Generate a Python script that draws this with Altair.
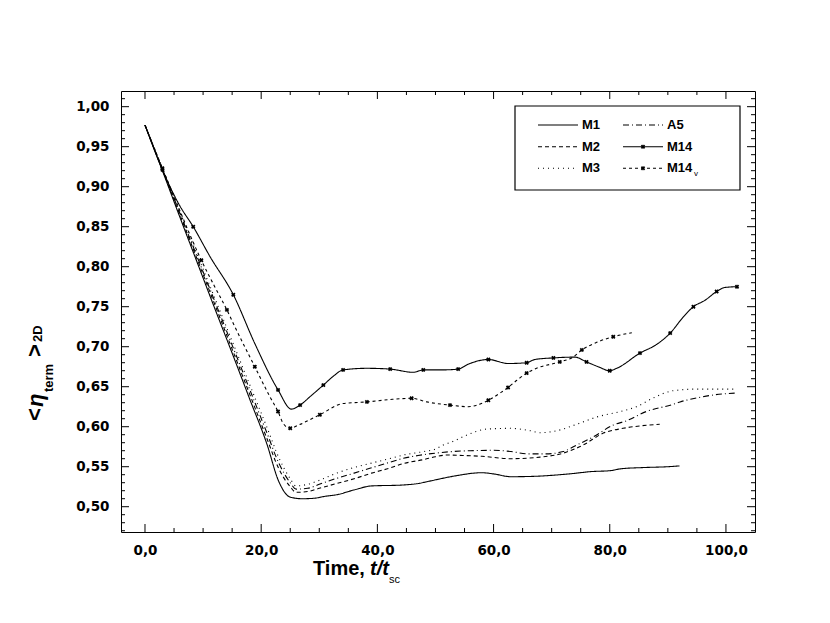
import altair as alt
import pandas as pd

# ---------------- data ----------------
M1_t = [0, 3, 6, 9, 12, 15, 18, 21, 23, 25, 27, 29, 31, 33, 36, 39, 44, 47, 49, 53, 58, 60, 63, 67, 73, 77, 80, 82, 86, 90, 92]
M1_v = [0.977, 0.920, 0.862, 0.805, 0.748, 0.692, 0.635, 0.578, 0.532, 0.512, 0.510, 0.5105, 0.513, 0.515, 0.521, 0.526,
        0.527, 0.529, 0.532, 0.538, 0.5425, 0.541, 0.5375, 0.538, 0.541, 0.544, 0.545, 0.5475, 0.549, 0.550, 0.551]

M2_t = [0, 3, 6, 9, 12, 15, 18, 21, 23, 25, 26, 28, 30, 33, 36, 39, 42, 44.5, 48, 50, 52, 55, 58, 63, 68, 72, 75.4, 78.9, 82.3, 85.2, 88.6]
M2_v = [0.977, 0.921, 0.865, 0.809, 0.753, 0.697, 0.641, 0.585, 0.548, 0.525, 0.518, 0.519, 0.523, 0.529, 0.535, 0.542,
        0.548, 0.554, 0.559, 0.5625, 0.5646, 0.564, 0.563, 0.560, 0.562, 0.567, 0.577, 0.592, 0.598, 0.601, 0.603]

M3_t = [0, 3, 6, 9, 12, 15, 18, 21, 23, 25, 26, 28, 30, 33, 36, 38.7, 41.5, 44.5, 48, 50, 51.3, 52.8, 55.4, 58.8, 62.8,
        66.3, 68, 70.9, 74.3, 77.7, 81.8, 84.6, 87.5, 90.9, 95, 98.4, 101.3]
M3_v = [0.977, 0.923, 0.869, 0.815, 0.761, 0.707, 0.653, 0.599, 0.562, 0.535, 0.526, 0.528, 0.533, 0.542, 0.549, 0.554,
        0.559, 0.5646, 0.569, 0.572, 0.577, 0.581, 0.5896, 0.597, 0.598, 0.595, 0.5925, 0.595, 0.603, 0.612, 0.619, 0.625,
        0.636, 0.645, 0.647, 0.647, 0.647]

A5_t = [0, 3, 6, 9, 12, 15, 18, 21, 23, 25, 26, 28, 30, 33, 36, 38.7, 41, 44.5, 47, 50, 53, 56, 60, 63, 66, 69, 72, 74,
        77.2, 80.6, 82.9, 86.3, 90.9, 92.1, 95, 97.8, 101.5]
A5_v = [0.977, 0.922, 0.867, 0.812, 0.757, 0.702, 0.647, 0.592, 0.555, 0.530, 0.522, 0.523, 0.528, 0.5355, 0.542, 0.548,
        0.553, 0.5605, 0.564, 0.567, 0.569, 0.570, 0.5705, 0.569, 0.566, 0.566, 0.569, 0.576, 0.5875, 0.602, 0.6075, 0.619,
        0.628, 0.631, 0.636, 0.6396, 0.642]

M14_t = [0, 3, 6, 8.3, 11.2, 15.2, 18.9, 22.9, 25.2, 26.7, 28.4, 30.7, 32.4, 34.1, 38.2, 42.2, 46.2, 47.9, 51.1, 53.9,
         55.6, 59.1, 62.5, 65.7, 67.1, 70.3, 74.0, 76.0, 78.0, 80.0, 81.2, 85.2, 88.1, 90.4, 92.7, 94.4, 96.4, 98.4, 99.8, 101.9]
M14_v = [0.977, 0.921, 0.876, 0.850, 0.8125, 0.765, 0.704, 0.646, 0.622, 0.627, 0.6375, 0.652, 0.663, 0.671, 0.673, 0.672,
         0.668, 0.671, 0.671, 0.672, 0.678, 0.684, 0.679, 0.680, 0.684, 0.686, 0.687, 0.681, 0.675, 0.670, 0.673, 0.692,
         0.703, 0.717, 0.7375, 0.750, 0.758, 0.769, 0.774, 0.775]

M14v_t = [0, 3, 6, 9.7, 12, 14.1, 15.2, 18.9, 21.5, 22.9, 23.8, 25.0, 26.4, 30.1, 34.1, 38.2, 42.2, 45.9, 48.5, 52.5,
          55.6, 59.1, 61.1, 62.5, 64.0, 65.7, 67.4, 71.4, 73.7, 75.2, 77.6, 80.6, 83.8]
M14v_v = [0.977, 0.923, 0.870, 0.808, 0.775, 0.746, 0.729, 0.675, 0.6375, 0.619, 0.604, 0.598, 0.602, 0.615, 0.629, 0.631,
          0.634, 0.6355, 0.631, 0.627, 0.625, 0.633, 0.642, 0.649, 0.658, 0.667, 0.673, 0.681, 0.687, 0.696, 0.705,
          0.7125, 0.7175]

SERIES = ["M1", "M2", "M3", "A5", "M14", "M14v"]
X_MAJOR = [0, 20, 40, 60, 80, 100]
X_MINOR = [5, 10, 15, 25, 30, 35, 45, 50, 55, 65, 70, 75, 85, 90, 95]
Y_MAJOR = [0.50, 0.55, 0.60, 0.65, 0.70, 0.75, 0.80, 0.85, 0.90, 0.95, 1.00]
Y_MINOR = [round(0.47 + 0.01 * i, 2) for i in range(55) if round((0.47 + 0.01 * i) * 100) % 5 != 0]

# ---------------- build tables ----------------
data = {"M1": (M1_t, M1_v), "M2": (M2_t, M2_v), "M3": (M3_t, M3_v),
        "A5": (A5_t, A5_v), "M14": (M14_t, M14_v), "M14v": (M14v_t, M14v_v)}
rows = []
for name in SERIES:
    ts, vs = data[name]
    for t, v in zip(ts, vs):
        rows.append({"series": name, "t": t, "v": v})
df = pd.DataFrame(rows)

mk_rows = []
for name in ["M14", "M14v"]:
    ts, vs = data[name]
    for i, (t, v) in enumerate(zip(ts, vs)):
        if i % 2 == 1:
            mk_rows.append({"series": name, "t": t, "v": v})
mk = pd.DataFrame(mk_rows)

DASH = {"M1": [1, 0], "M2": [4, 3], "M3": [1, 4], "A5": [6, 3, 1, 3], "M14": [1, 0], "M14v": [3, 3]}

W, H = 634, 441
FONT = "Liberation Sans"
TICK_FONT = "DejaVu Sans"

xs = alt.Scale(domain=[-4.13, 105.0], nice=False, zero=False)
ys = alt.Scale(domain=[0.4684, 1.0196], nice=False, zero=False)

x_axis = alt.Axis(values=X_MAJOR, labelExpr="replace(format(datum.value,'.1f'),'.',',')", ticks=False,
                  domain=False, grid=False, labelFont=TICK_FONT, labelFontSize=13.5, labelFontWeight="bold",
                  labelColor="black", labelPadding=11, title="")
y_axis = alt.Axis(values=Y_MAJOR, labelExpr="replace(format(datum.value,'.2f'),'.',',')", ticks=False,
                  domain=False, grid=False, labelFont=TICK_FONT, labelFontSize=13.5, labelFontWeight="bold",
                  labelColor="black", labelPadding=12, title="")


def X(field):
    return alt.X(field, scale=xs, axis=x_axis)


def Y(field):
    return alt.Y(field, scale=ys, axis=y_axis)


lines = alt.Chart(df).mark_line(color="black", strokeWidth=1.1, interpolate="monotone").encode(
    x=X("t:Q"),
    y=Y("v:Q"),
    strokeDash=alt.StrokeDash("series:N", scale=alt.Scale(domain=SERIES, range=[DASH[k] for k in SERIES]),
                              legend=None),
)

markers = alt.Chart(mk).mark_point(shape="cross", angle=45, filled=True, color="black", size=20, opacity=1).encode(
    x=X("t:Q"),
    y=Y("v:Q"),
)

layers = [lines, markers]


def xticks(vals, length):
    d = pd.DataFrame({"t": vals})
    b = alt.Chart(d).mark_rule(color="black", strokeWidth=1).encode(
        x=X("t:Q"), y=alt.value(H), y2=alt.value(H - length))
    t = alt.Chart(d).mark_rule(color="black", strokeWidth=1).encode(
        x=X("t:Q"), y=alt.value(0), y2=alt.value(length))
    return [b, t]


def yticks(vals, length):
    d = pd.DataFrame({"v": vals})
    l = alt.Chart(d).mark_rule(color="black", strokeWidth=1).encode(
        y=Y("v:Q"), x=alt.value(0), x2=alt.value(length))
    r = alt.Chart(d).mark_rule(color="black", strokeWidth=1).encode(
        y=Y("v:Q"), x=alt.value(W), x2=alt.value(W - length))
    return [l, r]


layers += xticks(X_MAJOR, 8) + xticks(X_MINOR, 4)
layers += yticks(Y_MAJOR, 8) + yticks([v for v in Y_MINOR if 0.4684 < v < 1.0196], 4)

one = pd.DataFrame({"a": [0]})


def txt(s, x, y, size, weight="bold", style="normal", angle=0, align="left", baseline="alphabetic"):
    return alt.Chart(one).mark_text(text=s, font=FONT, fontSize=size, fontWeight=weight, fontStyle=style,
                                    angle=angle, align=align, baseline=baseline, color="black").encode(
        x=alt.value(x), y=alt.value(y))


# y-axis title  < eta_term >_2D  (rotated)
layers += [
    txt("<", -79, 330, 22, angle=270),
    txt("η", -78, 316, 22, style="italic", angle=270),
    txt("term", -68, 301, 13, angle=270),
    txt(">", -79, 266, 22, angle=270),
    txt("2D", -79, 251, 13, angle=270),
]
# x-axis title  Time, t/t_sc
layers += [
    txt("Time,", 192, 484, 20),
    txt("t/t", 249, 484, 20, style="italic"),
    txt("sc", 268, 492, 11, weight="normal"),
]

# legend box
layers.append(alt.Chart(one).mark_rect(fillOpacity=0, stroke="black", strokeWidth=1.2).encode(
    x=alt.value(394), x2=alt.value(619), y=alt.value(15), y2=alt.value(99)))

LEG_ORDER = [["M1", "M2", "M3"], ["A5", "M14", "M14v"]]
COL_X = [417, 502]
ROW_Y = [34, 55.7, 77.3]
for c, col in enumerate(LEG_ORDER):
    for r, name in enumerate(col):
        x0 = COL_X[c]
        y0 = ROW_Y[r]
        layers.append(alt.Chart(one).mark_rule(color="black", strokeWidth=1.1, strokeDash=DASH[name]).encode(
            x=alt.value(x0), x2=alt.value(x0 + 40), y=alt.value(y0)))
        label = "M14" if name == "M14v" else name
        layers.append(txt(label, x0 + 44, y0, 13, baseline="middle"))
        if name in ("M14", "M14v"):
            layers.append(alt.Chart(one).mark_point(shape="cross", angle=45, filled=True, color="black",
                                                    size=20, opacity=1).encode(
                x=alt.value(x0 + 20), y=alt.value(y0)))
        if name == "M14v":
            layers.append(txt("v", x0 + 71, y0 + 8, 8, weight="normal"))

chart = alt.layer(*layers).properties(
    width=W, height=H,
    padding={"left": 113, "top": 83, "right": 60, "bottom": 80},
    autosize="none",
).configure_view(stroke="black", strokeWidth=1)

chart.save("out.html", embed_options={"renderer": "svg", "actions": False})
